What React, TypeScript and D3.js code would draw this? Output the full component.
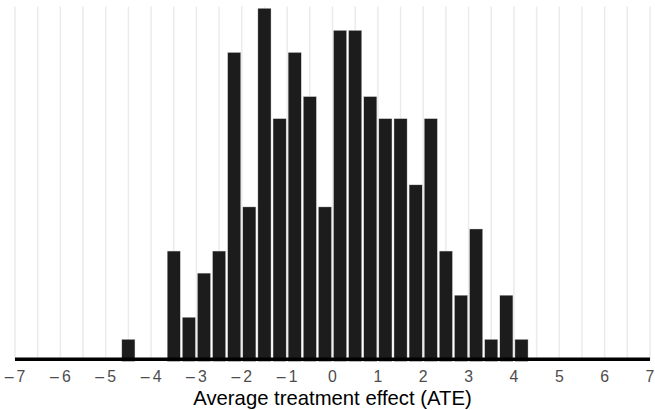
import React from "react";
import * as d3 from "d3";

// histogram of 200 ATE draws, bins of width 1/3 starting at -14/3
const binStart = -14 / 3;
const binWidth = 1 / 3;
const counts = [1, 0, 0, 5, 2, 4, 5, 14, 7, 16, 11, 14, 12, 7, 15, 15, 12, 11, 11, 8, 11, 5, 3, 6, 1, 3, 1];
const xTicks = [-7, -6, -5, -4, -3, -2, -1, 0, 1, 2, 3, 4, 5, 6, 7];
const gridValues = d3.range(-7, 7.01, 0.5);
const xTitle = "Average treatment effect (ATE)";

const W = 655;
const H = 410;

export default function App() {
  const x = d3.scaleLinear().domain([-7, 7]).range([15, 650]);
  const y = d3.scaleLinear().domain([0, 16]).range([361.4, 8.3]);
  const baseline = 359.3;

  const bins = counts.map((c, i) => ({
    x0: binStart + i * binWidth,
    x1: binStart + (i + 1) * binWidth,
    count: c,
  }));

  // ticks use a spaced dash for the minus sign, as in the original
  const fmt = (v: number) => (v < 0 ? "\u2013\u2009" + Math.abs(v) : String(v));

  return (
    <svg
      width={W}
      height={H}
      style={{ position: "absolute", left: 0, top: 0 }}
      fontFamily="'Liberation Sans', Arial, sans-serif"
    >
      <rect width={W} height={H} fill="#fff" />
      {/* grid */}
      {gridValues.map((v) => (
        <line
          key={v}
          x1={x(v)}
          x2={x(v)}
          y1={6.5}
          y2={baseline}
          stroke="#ebebeb"
          strokeWidth={1.5}
        />
      ))}
      {/* bars */}
      {bins
        .filter((b) => b.count > 0)
        .map((b, i) => (
          <rect
            key={i}
            x={x(b.x0) + 1}
            y={y(b.count)}
            width={x(b.x1) - x(b.x0) - 2}
            height={y(0) - y(b.count)}
            fill="#1c1c1c"
            stroke="#d9d9d9"
            strokeWidth={0.4}
          />
        ))}
      {/* axis line */}
      <line x1={15} x2={650} y1={baseline} y2={baseline} stroke="#000" strokeWidth={3.4} />
      {xTicks.map((t) => (
        <text
          key={t}
          x={x(t)}
          y={382.3}
          textAnchor="middle"
          fontSize={15.8}
          fill="#4d4d4d"
        >
          {fmt(t)}
        </text>
      ))}
      <text x={x(0)} y={404.5} textAnchor="middle" fontSize={20.3} fill="#000">
        {xTitle}
      </text>
    </svg>
  );
}
